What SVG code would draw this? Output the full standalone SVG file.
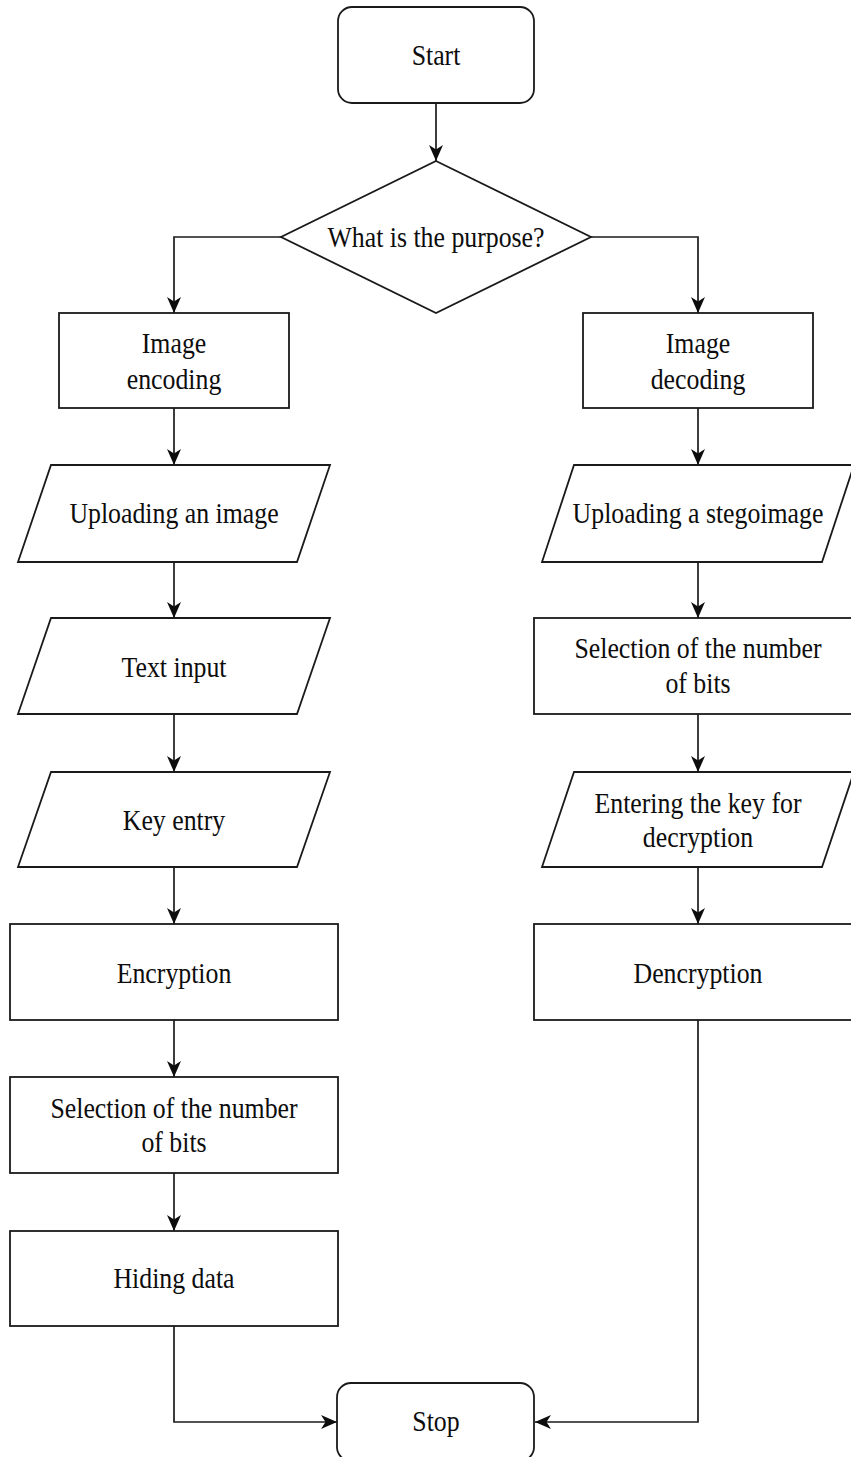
<svg xmlns="http://www.w3.org/2000/svg" width="851" height="1457" viewBox="0 0 851 1457">
<style>
.s{fill:#fff;stroke:#1a1a1a;stroke-width:1.8}
.c{fill:none;stroke:#1a1a1a;stroke-width:1.7}
.t text{font-size:29px;fill:#0d0d0d;text-anchor:middle;transform-box:fill-box;transform-origin:center;transform:scaleX(0.89)}
</style>
<defs>
<marker id="ar" viewBox="0 0 16 14" refX="16" refY="7" markerWidth="16" markerHeight="14" orient="auto" markerUnits="userSpaceOnUse">
<path d="M0,0 L16,7 L0,14 L4.5,7 Z" fill="#0d0d0d"/>
</marker>
</defs>
<rect width="851" height="1457" fill="#fff"/>
<g id="connectors">
<path class="c" d="M436,103 V161" marker-end="url(#ar)"/>
<path class="c" d="M281,237 H174 V313" marker-end="url(#ar)"/>
<path class="c" d="M591,237 H698 V313" marker-end="url(#ar)"/>
<path class="c" d="M174,408 V465" marker-end="url(#ar)"/>
<path class="c" d="M174,562 V618" marker-end="url(#ar)"/>
<path class="c" d="M174,714 V772" marker-end="url(#ar)"/>
<path class="c" d="M174,867 V924" marker-end="url(#ar)"/>
<path class="c" d="M174,1020 V1077" marker-end="url(#ar)"/>
<path class="c" d="M174,1173 V1231" marker-end="url(#ar)"/>
<path class="c" d="M174,1326 V1422 H337" marker-end="url(#ar)"/>
<path class="c" d="M698,408 V465" marker-end="url(#ar)"/>
<path class="c" d="M698,562 V618" marker-end="url(#ar)"/>
<path class="c" d="M698,714 V772" marker-end="url(#ar)"/>
<path class="c" d="M698,867 V924" marker-end="url(#ar)"/>
<path class="c" d="M698,1020 V1422 H535" marker-end="url(#ar)"/>
</g>
<g class="t" font-family="'Liberation Serif', 'Times New Roman', serif">
<g id="start"><rect class="s" x="338" y="7" width="196" height="96" rx="14"/><text x="436" y="65">Start</text></g>
<g id="purpose"><polygon class="s" points="436,161 591,237 436,313 281,237"/><text x="436" y="247">What is the purpose?</text></g>
<g id="image-encoding"><rect class="s" x="59" y="313" width="230" height="95"/><text x="174" y="353">Image<tspan x="174" y="389">encoding</tspan></text></g>
<g id="uploading-image"><polygon class="s" points="51,465 330,465 297,562 18,562"/><text x="174" y="523">Uploading an image</text></g>
<g id="text-input"><polygon class="s" points="51,618 330,618 297,714 18,714"/><text x="174" y="677">Text input</text></g>
<g id="key-entry"><polygon class="s" points="51,772 330,772 297,867 18,867"/><text x="174" y="830">Key entry</text></g>
<g id="encryption"><rect class="s" x="10" y="924" width="328" height="96"/><text x="174" y="983">Encryption</text></g>
<g id="selection-left"><rect class="s" x="10" y="1077" width="328" height="96"/><text x="174" y="1118">Selection of the number<tspan x="174" y="1152">of bits</tspan></text></g>
<g id="hiding-data"><rect class="s" x="10" y="1231" width="328" height="95"/><text x="174" y="1288">Hiding data</text></g>
<g id="image-decoding"><rect class="s" x="583" y="313" width="230" height="95"/><text x="698" y="353">Image<tspan x="698" y="389">decoding</tspan></text></g>
<g id="uploading-stego"><polygon class="s" points="574,465 854,465 822,562 542,562"/><text x="698" y="523">Uploading a stegoimage</text></g>
<g id="selection-right"><rect class="s" x="534" y="618" width="328" height="96"/><text x="698" y="658">Selection of the number<tspan x="698" y="693">of bits</tspan></text></g>
<g id="entering-key"><polygon class="s" points="574,772 854,772 822,867 542,867"/><text x="698" y="813">Entering the key for<tspan x="698" y="847">decryption</tspan></text></g>
<g id="dencryption"><rect class="s" x="534" y="924" width="328" height="96"/><text x="698" y="983">Dencryption</text></g>
<g id="stop"><rect class="s" x="337" y="1383" width="197" height="78" rx="14"/><text x="436" y="1431">Stop</text></g>
</g>
</svg>
